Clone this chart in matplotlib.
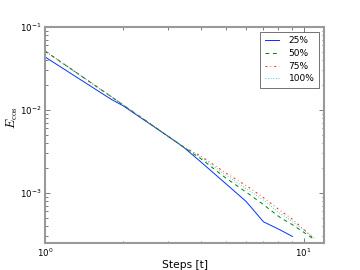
import matplotlib
matplotlib.use('Agg')
import matplotlib.pyplot as plt

# values (steps, error)
steps_25 = [1, 1.8, 2, 3, 3.43, 4, 5, 6, 7, 8, 9.06]
err_25 = [0.0436, 0.0135, 0.0113, 0.0048, 0.00358, 0.00238, 0.0013, 7.9e-4, 4.5e-4, 3.68e-4, 3.0e-4]

steps_50 = [1, 2, 3, 3.43, 4, 5, 6.07, 7, 8.1, 9, 10, 10.8]
err_50 = [0.0514, 0.0116, 0.0048, 0.00358, 0.0026, 0.00152, 1.0e-3, 7.24e-4, 5.1e-4, 4.2e-4, 3.38e-4, 2.87e-4]

steps_75 = [1, 2, 3, 3.43, 4, 5, 6.07, 7, 8.1, 9, 10, 10.8]
err_75 = [0.0514, 0.0116, 0.0048, 0.00362, 0.0028, 0.00175, 1.2e-3, 8.8e-4, 6.2e-4, 4.9e-4, 3.68e-4, 2.95e-4]

steps_100 = [1, 2, 3, 3.43, 4, 5, 6.07, 7, 8.1, 9, 10, 11.1]
err_100 = [0.0514, 0.0116, 0.0048, 0.0036, 0.0027, 0.00165, 1.1e-3, 8.2e-4, 5.7e-4, 4.6e-4, 3.6e-4, 2.8e-4]

labels = ['25%', '50%', '75%', '100%']

plt.rcParams['mathtext.fontset'] = 'cm'
plt.rcParams['lines.scale_dashes'] = False
fig = plt.figure(figsize=(3.6, 2.7), dpi=100)
ax = fig.add_axes([0.125, 0.1, 0.775, 0.8])

ax.plot(steps_25, err_25, '-', color='#0033ff', lw=0.7, label=labels[0])
ax.plot(steps_50, err_50, color='#008000', lw=0.7, dashes=(2.7, 2.7), label=labels[1])
ax.plot(steps_75, err_75, color='#ff2200', lw=0.7, dashes=(1.4, 2.2, 0.5, 2.2), label=labels[2])
ax.plot(steps_100, err_100, color='#00c0c0', lw=0.7, dashes=(0.5, 1.4), label=labels[3])

ax.set_xscale('log')
ax.set_yscale('log')
ax.set_xlim(1, 12)
ax.set_ylim(2.5e-4, 0.1)

for s in ax.spines.values():
    s.set_color('#999999')
    s.set_linewidth(1.5)
ax.tick_params(which='both', direction='in', top=True, right=True, labelsize=6.2,
               color='#666666', pad=2.5, width=0.6)
ax.tick_params(which='major', length=3.5)
ax.tick_params(which='minor', length=1.8)

ax.set_xlabel('Steps [t]', fontsize=7.7, labelpad=1)
ax.set_ylabel(r'$E_{\cos}$', fontsize=9)
ax.yaxis.set_label_coords(-0.09, 0.58)

leg = ax.legend(loc='upper right', fontsize=6.5, fancybox=False, handlelength=1.5,
                labelspacing=0.4, handletextpad=1.1, borderpad=0.55)
leg.get_frame().set_edgecolor('#333333')
leg.get_frame().set_linewidth(0.6)

fig.savefig('out.png', dpi=100)
